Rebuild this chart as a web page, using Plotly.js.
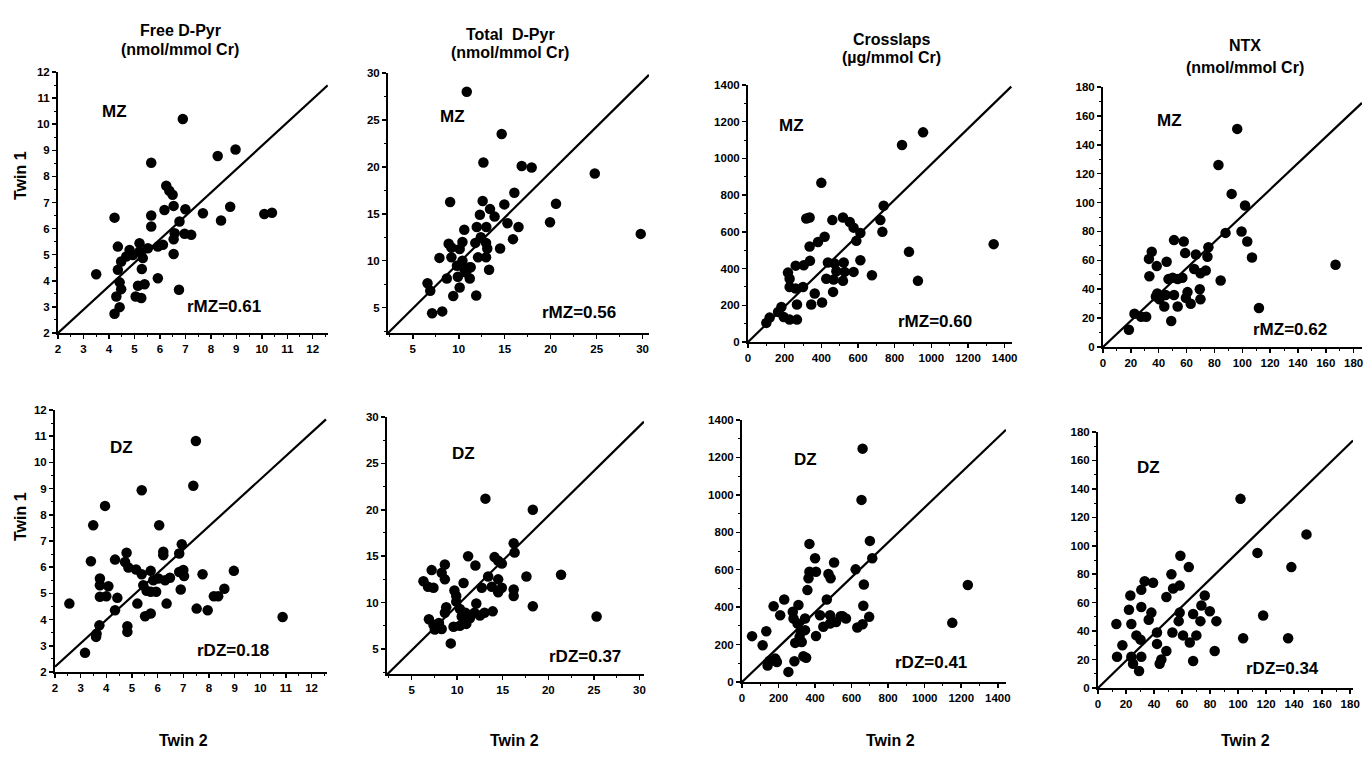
<!DOCTYPE html>
<html>
<head>
<meta charset="utf-8">
<script src="https://cdn.plot.ly/plotly-3.0.1.min.js"></script>
<style>html,body{margin:0;padding:0;background:#fff;}#chart{width:1367px;height:761px;}</style>
</head>
<body>
<div id="chart"></div>
<script>
// ---------- DATA (Twin 2 = x, Twin 1 = y) ----------
var ticksFree  = [2,3,4,5,6,7,8,9,10,11,12];
var ticksTotal = [5,10,15,20,25,30];
var ticksCross = [0,200,400,600,800,1000,1200,1400];
var ticksNTX   = [0,20,40,60,80,100,120,140,160,180];

var freeMZ_x = [6.9,5.66,8.27,8.97,6.25,6.37,6.5,4.22,5.66,5.66,6.18,6.54,7.0,6.77,7.69,8.76,8.4,10.1,10.4,4.35,4.81,5.2,4.94,5.33,5.53,5.92,6.12,6.54,6.58,6.97,7.23,6.54,4.48,4.35,3.5,5.29,5.92,5.14,5.4,4.42,4.48,4.29,5.05,5.27,6.75,4.42,4.22,4.68,5.2];
var freeMZ_y = [10.2,8.52,8.78,9.03,7.64,7.45,7.3,6.42,6.5,6.08,6.71,6.87,6.74,6.27,6.59,6.84,6.31,6.56,6.61,5.31,5.18,5.44,4.99,4.87,5.25,5.31,5.38,5.59,5.82,5.8,5.76,5.03,4.74,4.42,4.25,4.45,4.1,3.81,3.87,3.94,3.68,3.4,3.4,3.34,3.66,2.99,2.74,4.93,5.12];

var totMZ_x = [10.87,14.67,12.68,16.85,17.93,24.8,9.06,12.6,14.96,16.05,20.58,19.93,29.8,13.4,13.9,12.3,15.3,16.5,15.9,14.5,11.96,13.0,10.6,8.9,9.2,10.4,10.1,11.8,12.4,12.97,13.1,12.97,7.9,9.2,10.4,9.8,10.6,11.3,12.1,13.3,8.7,9.9,10.1,11.2,6.6,6.9,9.4,11.9,7.1,8.2,10.8,11.2];
var totMZ_y = [28.0,23.5,20.46,20.1,19.93,19.3,16.25,16.36,16.0,17.25,16.07,14.1,12.86,15.5,14.7,14.9,14.0,13.6,12.3,11.3,13.6,13.6,13.3,11.8,11.4,12.0,11.25,11.9,12.5,11.9,11.3,10.36,10.3,10.36,10.0,9.46,9.1,9.3,10.36,9.04,8.1,8.3,7.14,8.1,7.6,6.8,6.25,6.3,4.4,4.6,8.75,9.3];

var crossMZ_x = [955,840,400,740,722,733,318,336,460,518,555,576,336,382,418,591,613,878,927,1340,218,260,304,338,436,473,522,613,482,527,576,676,427,467,518,464,364,404,345,227,260,300,267,182,164,195,227,267,118,100,227];
var crossMZ_y = [1142,1073,867,742,664,600,673,678,664,678,654,623,520,545,573,551,594,491,333,533,378,416,418,442,433,427,433,445,385,382,382,364,345,340,333,273,264,215,204,300,291,300,204,191,164,136,122,122,133,104,345];

var ntxMZ_x = [96.4,82.9,92.4,102,88,99.5,103.6,107,167,112,51,58,59,35,33,38.6,45.7,33.3,66.7,75.7,75,65.5,70,73.8,47,50,53.6,57,84.5,39,45,51,60.7,69.5,40.5,44,53.6,63,70,49,22.6,27.4,31,18.6,38,59.5];
var ntxMZ_y = [151,126,106,98,79,80,73,62,57,27,74,73,65,66,61,56,59,49,64,69,62.5,54,51,53,47,48,47,48,46,37,36,36,38,40,33,28,28,30,33,18,23,21,21,12,35,34];

var freeDZ_x = [7.49,7.39,5.38,3.95,3.49,6.06,6.94,6.84,6.22,6.22,3.4,4.34,4.79,4.73,4.86,5.16,5.38,5.73,5.83,6.03,6.29,6.48,6.84,7.0,7.03,7.75,8.97,3.75,3.75,4.08,3.75,4.0,4.43,2.56,5.44,5.57,5.73,5.94,6.9,8.19,8.36,8.6,5.21,6.35,7.52,7.95,10.87,4.34,5.51,5.73,3.73,3.62,4.82,4.82,3.17,3.6];
var freeDZ_y = [10.82,9.11,8.94,8.34,7.6,7.6,6.88,6.52,6.59,6.46,6.23,6.29,6.55,6.2,5.99,5.91,5.73,5.86,5.5,5.57,5.5,5.6,5.82,5.89,5.66,5.73,5.86,5.57,5.31,5.27,4.87,4.89,4.83,4.61,5.31,5.1,5.06,5.06,5.15,4.89,4.89,5.18,4.61,4.61,4.42,4.36,4.1,4.36,4.13,4.23,3.78,3.46,3.75,3.53,2.73,3.34];

var totDZ_x = [13.1,18.3,16.2,16.3,11.2,12.0,14.1,14.5,14.9,8.65,7.2,8.3,8.65,6.3,6.8,7.4,10.7,13.4,14.5,17.6,21.4,12.7,13.8,14.9,14.5,16.2,16.2,18.3,25.3,9.7,9.9,9.9,12.1,8.8,8.65,10.3,10.9,11.9,12.5,13.0,13.9,6.9,7.4,8.0,7.55,8.3,9.6,10.3,11.0,10.5,9.3,11.4];
var totDZ_y = [21.2,20.0,16.4,15.4,15.0,14.0,14.9,14.5,14.2,14.1,13.5,13.2,12.5,12.3,11.7,11.6,12.1,12.8,12.5,12.8,13.0,11.6,11.7,11.6,11.1,11.4,10.7,9.6,8.5,11.3,10.7,10.1,9.9,9.5,8.9,9.3,8.9,8.9,8.6,8.9,9.05,8.2,7.6,7.8,7.1,7.15,7.4,7.5,7.7,8.5,5.6,8.3];

var crossDZ_x = [660,654,700,369,400,369,364,405,504,473,485,358,622,713,667,664,696,660,631,464,427,482,482,445,515,551,569,405,345,309,231,173,209,278,282,304,322,315,291,327,133,55,113,151,182,140,336,351,287,254,1151,1236,540,191,345];
var crossDZ_y = [1247,973,754,738,661,589,554,589,639,577,554,491,602,661,521,407,348,309,291,441,357,357,313,295,321,352,339,246,339,411,441,405,357,375,339,313,268,241,209,214,271,245,196,113,125,88,138,130,111,54,316,518,352,107,277];

var ntxDZ_x = [101.7,148.8,113.8,138,117.9,103.6,135.7,58.8,64.8,52.4,53.6,58.3,48.8,33.3,39.3,30.9,23.1,22.1,30.9,38.1,36.2,23.8,13.1,58.3,57.6,67.9,73.8,76.2,73.1,79.8,84.5,42.1,53.1,60.7,70.2,65.5,27.4,30.4,42.1,48.8,83.3,17.4,13.6,23.8,30.9,25,29.3,45.2,44,67.9];
var ntxDZ_y = [133,108,95,85,51,35,35,93,85,80,70,72,64,75,74,69,65,55,57,53,48,45,45,53,47,52,58,65,47,54,47,39,39,37,37,32,37,34,31,26,26,30,22,22,22,17,12,20,17,19];

// identity reference lines (start, end) as drawn in each panel
var lineFree_x = [2,12.59],   lineFree_y = [2,11.49];
var lineTot_x  = [2.3,30.7],  lineTot_y  = [2.3,29.8];
var lineCross_x= [0,1436],    lineCross_y= [0,1391];
var lineNTX_x  = [0,186],     lineNTX_y  = [0,169];
var lineFreeDZ_x = [2,12.56], lineFreeDZ_y = [2.2,11.64];
var lineTotDZ_x  = [2.3,30.5],lineTotDZ_y  = [2.24,29.5];
var lineCrossDZ_x= [0,1445],  lineCrossDZ_y= [0,1348];
var lineNTXDZ_x  = [0,182],   lineNTXDZ_y  = [0,174];

var colTitles = [["Free D-Pyr","(nmol/mmol Cr)"],["Total  D-Pyr","(nmol/mmol Cr)"],["Crosslaps","(\u00b5g/mmol Cr)"],["NTX","(nmol/mmol Cr)"]];
var groupLabels = ["MZ","MZ","MZ","MZ","DZ","DZ","DZ","DZ"];
var rLabels = ["rMZ=0.61","rMZ=0.56","rMZ=0.60","rMZ=0.62","rDZ=0.18","rDZ=0.37","rDZ=0.41","rDZ=0.34"];

// ---------- LAYOUT CONFIG ----------
var W = 1367, H = 761;
var panels = [
  {x:freeMZ_x, y:freeMZ_y, lx:lineFree_x, ly:lineFree_y, xr:[2,12.6], yr:[2,12], px:[58,328], py:[333,72], xt:ticksFree, yt:ticksFree, minor:0.5, g:[4.2,10.5], r:[8.5,3.0]},
  {x:totMZ_x, y:totMZ_y, lx:lineTot_x, ly:lineTot_y, xr:[2.3,30.7], yr:[2.3,30], px:[388,649], py:[333,73], xt:ticksTotal, yt:ticksTotal, minor:2.5, g:[9.3,25.4], r:[23.1,4.5]},
  {x:crossMZ_x, y:crossMZ_y, lx:lineCross_x, ly:lineCross_y, xr:[0,1440], yr:[0,1400], px:[748,1012], py:[342,85], xt:ticksCross, yt:ticksCross, minor:100, g:[236,1182], r:[1018,109]},
  {x:ntxMZ_x, y:ntxMZ_y, lx:lineNTX_x, ly:lineNTX_y, xr:[0,186], yr:[0,180], px:[1103,1362], py:[347,87], xt:ticksNTX, yt:ticksNTX, minor:10, g:[47.6,157], r:[134.5,12]},
  {x:freeDZ_x, y:freeDZ_y, lx:lineFreeDZ_x, ly:lineFreeDZ_y, xr:[2,12.6], yr:[2,12], px:[55,327], py:[672,410], xt:ticksFree, yt:ticksFree, minor:0.5, g:[4.6,10.57], r:[8.95,2.83]},
  {x:totDZ_x, y:totDZ_y, lx:lineTotDZ_x, ly:lineTotDZ_y, xr:[2.3,30.5], yr:[2.3,30], px:[387,644], py:[674,417], xt:ticksTotal, yt:ticksTotal, minor:2.5, g:[10.66,26.1], r:[24,4.14]},
  {x:crossDZ_x, y:crossDZ_y, lx:lineCrossDZ_x, ly:lineCrossDZ_y, xr:[0,1445], yr:[0,1400], px:[742,1006], py:[682,420], xt:ticksCross, yt:ticksCross, minor:100, g:[345,1188], r:[1036,102]},
  {x:ntxDZ_x, y:ntxDZ_y, lx:lineNTXDZ_x, ly:lineNTXDZ_y, xr:[0,182], yr:[0,180], px:[1098,1353], py:[688,432], xt:ticksNTX, yt:ticksNTX, minor:10, g:[35.7,155], r:[132,14]}
];

var FONT = "Liberation Sans, Arial, Helvetica, sans-serif";
var traces = [], annotations = [];
var layout = {
  width: W, height: H,
  margin: {l:0, r:0, t:0, b:0},
  paper_bgcolor: "#fff", plot_bgcolor: "#fff",
  showlegend: false,
  font: {family: FONT, color: "#000"}
};

panels.forEach(function(p, i) {
  var n = i + 1;
  var xa = "xaxis" + (n === 1 ? "" : n), ya = "yaxis" + (n === 1 ? "" : n);
  var xref = "x" + (n === 1 ? "" : n), yref = "y" + (n === 1 ? "" : n);
  var axCommon = {
    showgrid: false, zeroline: false, showline: true, linecolor: "#000", linewidth: 2,
    ticks: "outside", ticklen: 4, tickwidth: 1.5, tickcolor: "#000",
    tickmode: "array",
    tickfont: {family: FONT, size: 11.5, weight: "bold", color: "#000"},
    minor: {ticks: "outside", ticklen: 2, tickwidth: 1, tickcolor: "#000", dtick: p.minor},
    fixedrange: true
  };
  layout[xa] = Object.assign({}, axCommon, {
    domain: [p.px[0]/W, p.px[1]/W], range: p.xr, tickvals: p.xt,
    anchor: yref
  });
  layout[ya] = Object.assign({}, axCommon, {
    domain: [1 - p.py[0]/H, 1 - p.py[1]/H], range: p.yr, tickvals: p.yt,
    anchor: xref
  });
  traces.push({
    type: "scatter", mode: "lines", x: p.lx, y: p.ly, xaxis: xref, yaxis: yref,
    line: {color: "#000", width: 2.2}, hoverinfo: "skip"
  });
  traces.push({
    type: "scatter", mode: "markers", x: p.x, y: p.y, xaxis: xref, yaxis: yref,
    marker: {color: "#000", size: 10.5, line: {width: 0}}, cliponaxis: false
  });
  annotations.push({xref: xref, yref: yref, x: p.g[0], y: p.g[1], text: groupLabels[i], showarrow: false,
    xanchor: "center", yanchor: "middle", font: {family: FONT, size: 17, weight: "bold"}});
  annotations.push({xref: xref, yref: yref, x: p.r[0], y: p.r[1], text: rLabels[i], showarrow: false,
    xanchor: "center", yanchor: "middle", font: {family: FONT, size: 17, weight: "bold"}});
});

// column titles
var titleX = [180, 510, 892, 1245];
var titleY = [[31, 50],[34, 53],[39, 58],[46, 68]];
colTitles.forEach(function(t, i) {
  for (var k = 0; k < 2; k++) {
    annotations.push({xref: "paper", yref: "paper", x: titleX[i]/W, y: 1 - titleY[i][k]/H,
      text: t[k], showarrow: false, xanchor: "center", yanchor: "middle",
      font: {family: FONT, size: 16, weight: "bold"}});
  }
});
// Twin 2 labels
var twin2X = [183, 514, 890, 1245];
twin2X.forEach(function(x) {
  annotations.push({xref: "paper", yref: "paper", x: x/W, y: 1 - 740/H, text: "Twin 2",
    xanchor: "center", yanchor: "middle",
    showarrow: false, font: {family: FONT, size: 16, weight: "bold"}});
});
// Twin 1 labels
[176, 517].forEach(function(y) {
  annotations.push({xref: "paper", yref: "paper", x: 20/W, y: 1 - y/H, text: "Twin 1",
    xanchor: "center", yanchor: "middle",
    textangle: -90, showarrow: false, font: {family: FONT, size: 16, weight: "bold"}});
});
layout.annotations = annotations;

Plotly.newPlot("chart", traces, layout, {staticPlot: true, displayModeBar: false});
</script>
</body>
</html>
